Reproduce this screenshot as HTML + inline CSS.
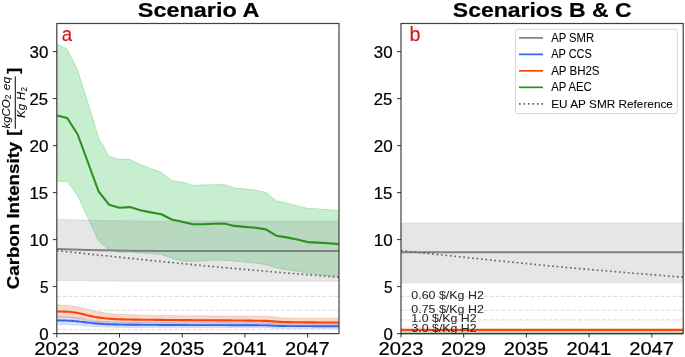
<!DOCTYPE html>
<html><head><meta charset="utf-8"><title>Carbon Intensity: Scenario A / Scenarios B &amp; C</title><style>html,body{margin:0;padding:0;background:#fff;overflow:hidden;}
svg{display:block;will-change:transform;}
text{font-family:"Liberation Sans",sans-serif;fill:#000;stroke:#000;stroke-width:0.22px;paint-order:stroke;}</style></head><body>
<svg width="685" height="357" viewBox="0 0 685 357">
<defs><clipPath id="clipA"><rect x="56.8" y="23.5" width="282.2" height="310.1"/></clipPath><clipPath id="clipB"><rect x="401.0" y="23.5" width="282.2" height="310.1"/></clipPath></defs>
<rect width="685" height="357" fill="#fff"/>
<g clip-path="url(#clipA)">
<path d="M56.80,43.80 L67.25,49.40 L77.70,70.50 L88.16,103.80 L98.61,138.20 L109.06,156.40 L119.51,159.50 L129.96,159.50 L140.41,164.70 L150.87,168.60 L161.32,172.50 L171.77,180.60 L182.22,182.20 L192.67,185.50 L203.13,185.00 L213.58,184.90 L224.03,184.70 L234.48,188.00 L244.93,189.20 L255.39,190.20 L265.84,192.50 L276.29,200.90 L286.74,203.10 L297.19,206.00 L307.64,208.50 L318.10,209.00 L328.55,209.80 L339.00,210.50 L339.00,276.40 L328.55,275.50 L318.10,274.50 L307.64,273.00 L297.19,271.10 L286.74,269.70 L276.29,267.80 L265.84,264.50 L255.39,263.10 L244.93,262.10 L234.48,261.00 L224.03,260.00 L213.58,259.90 L203.13,260.70 L192.67,261.30 L182.22,261.00 L171.77,258.20 L161.32,254.40 L150.87,253.50 L140.41,252.90 L129.96,251.80 L119.51,252.40 L109.06,249.50 L98.61,241.10 L88.16,218.20 L77.70,195.80 L67.25,181.50 L56.80,181.00 Z" fill="rgb(198,238,207)" stroke="rgb(172,226,184)" stroke-width="1.0" stroke-linejoin="round"/>
<path d="M56.80,219.30 L88.16,220.10 L119.51,220.80 L150.87,221.00 L339.00,221.00 L339.00,281.30 L119.51,281.20 L56.80,280.60 Z" fill="#808080" fill-opacity="0.2" stroke="#808080" stroke-opacity="0.15" stroke-width="1"/>
<path d="M56.80,305.00 L58.57,305.01 L60.35,305.04 L62.12,305.09 L63.90,305.15 L65.67,305.23 L67.45,305.31 L69.22,305.47 L71.00,305.71 L72.77,306.02 L74.55,306.37 L76.32,306.73 L78.10,307.07 L79.87,307.43 L81.65,307.81 L83.42,308.21 L85.20,308.62 L86.97,309.03 L88.75,309.44 L90.52,309.87 L92.30,310.32 L94.07,310.77 L95.85,311.20 L97.62,311.60 L99.40,311.95 L101.17,312.29 L102.95,312.61 L104.72,312.91 L106.50,313.18 L108.27,313.41 L110.05,313.60 L111.82,313.77 L113.59,313.93 L115.37,314.06 L117.14,314.18 L118.92,314.27 L120.69,314.35 L122.47,314.42 L124.24,314.49 L126.02,314.56 L127.79,314.62 L129.57,314.68 L131.34,314.74 L133.12,314.80 L134.89,314.85 L136.67,314.91 L138.44,314.96 L140.22,315.00 L141.99,315.05 L143.77,315.09 L145.54,315.14 L147.32,315.18 L149.09,315.22 L150.87,315.25 L152.64,315.29 L154.42,315.33 L156.19,315.36 L157.97,315.39 L159.74,315.42 L161.52,315.45 L163.29,315.48 L165.07,315.51 L166.84,315.53 L168.62,315.56 L170.39,315.58 L172.16,315.61 L173.94,315.63 L175.71,315.65 L177.49,315.67 L179.26,315.69 L181.04,315.71 L182.81,315.72 L184.59,315.74 L186.36,315.75 L188.14,315.77 L189.91,315.78 L191.69,315.79 L193.46,315.80 L195.24,315.81 L197.01,315.83 L198.79,315.83 L200.56,315.84 L202.34,315.85 L204.11,315.86 L205.89,315.87 L207.66,315.88 L209.44,315.89 L211.21,315.89 L212.99,315.90 L214.76,315.91 L216.54,315.92 L218.31,315.93 L220.09,315.93 L221.86,315.94 L223.64,315.95 L225.41,315.96 L227.18,315.97 L228.96,315.98 L230.73,315.99 L232.51,316.00 L234.28,316.01 L236.06,316.03 L237.83,316.04 L239.61,316.05 L241.38,316.07 L243.16,316.08 L244.93,316.10 L246.71,316.12 L248.48,316.14 L250.26,316.16 L252.03,316.18 L253.81,316.20 L255.58,316.23 L257.36,316.25 L259.13,316.28 L260.91,316.31 L262.68,316.34 L264.46,316.37 L266.23,316.41 L268.01,316.49 L269.78,316.61 L271.56,316.77 L273.33,316.94 L275.11,317.10 L276.88,317.25 L278.66,317.41 L280.43,317.58 L282.21,317.74 L283.98,317.88 L285.75,317.98 L287.53,318.01 L289.30,318.03 L291.08,318.05 L292.85,318.07 L294.63,318.09 L296.40,318.11 L298.18,318.13 L299.95,318.15 L301.73,318.16 L303.50,318.17 L305.28,318.19 L307.05,318.20 L308.83,318.21 L310.60,318.22 L312.38,318.23 L314.15,318.24 L315.93,318.25 L317.70,318.26 L319.48,318.27 L321.25,318.27 L323.03,318.28 L324.80,318.28 L326.58,318.29 L328.35,318.29 L330.13,318.29 L331.90,318.30 L333.68,318.30 L335.45,318.30 L337.23,318.30 L339.00,318.30 L339.00,325.60 L337.23,325.60 L335.45,325.60 L333.68,325.60 L331.90,325.60 L330.13,325.60 L328.35,325.60 L326.58,325.60 L324.80,325.59 L323.03,325.59 L321.25,325.59 L319.48,325.59 L317.70,325.59 L315.93,325.58 L314.15,325.58 L312.38,325.58 L310.60,325.57 L308.83,325.57 L307.05,325.57 L305.28,325.56 L303.50,325.56 L301.73,325.55 L299.95,325.55 L298.18,325.54 L296.40,325.54 L294.63,325.53 L292.85,325.53 L291.08,325.52 L289.30,325.51 L287.53,325.50 L285.75,325.49 L283.98,325.46 L282.21,325.41 L280.43,325.35 L278.66,325.28 L276.88,325.22 L275.11,325.16 L273.33,325.08 L271.56,324.99 L269.78,324.91 L268.01,324.84 L266.23,324.80 L264.46,324.79 L262.68,324.78 L260.91,324.76 L259.13,324.75 L257.36,324.74 L255.58,324.73 L253.81,324.72 L252.03,324.71 L250.26,324.70 L248.48,324.70 L246.71,324.69 L244.93,324.68 L243.16,324.67 L241.38,324.67 L239.61,324.66 L237.83,324.66 L236.06,324.65 L234.28,324.65 L232.51,324.64 L230.73,324.64 L228.96,324.63 L227.18,324.63 L225.41,324.62 L223.64,324.62 L221.86,324.62 L220.09,324.61 L218.31,324.61 L216.54,324.61 L214.76,324.60 L212.99,324.60 L211.21,324.60 L209.44,324.59 L207.66,324.59 L205.89,324.59 L204.11,324.59 L202.34,324.58 L200.56,324.58 L198.79,324.58 L197.01,324.57 L195.24,324.57 L193.46,324.57 L191.69,324.56 L189.91,324.56 L188.14,324.55 L186.36,324.55 L184.59,324.54 L182.81,324.54 L181.04,324.53 L179.26,324.53 L177.49,324.52 L175.71,324.52 L173.94,324.51 L172.16,324.50 L170.39,324.49 L168.62,324.49 L166.84,324.48 L165.07,324.47 L163.29,324.47 L161.52,324.46 L159.74,324.46 L157.97,324.45 L156.19,324.44 L154.42,324.44 L152.64,324.43 L150.87,324.42 L149.09,324.42 L147.32,324.41 L145.54,324.40 L143.77,324.39 L141.99,324.38 L140.22,324.37 L138.44,324.36 L136.67,324.35 L134.89,324.34 L133.12,324.33 L131.34,324.32 L129.57,324.30 L127.79,324.29 L126.02,324.27 L124.24,324.25 L122.47,324.23 L120.69,324.21 L118.92,324.19 L117.14,324.15 L115.37,324.10 L113.59,324.03 L111.82,323.94 L110.05,323.85 L108.27,323.75 L106.50,323.63 L104.72,323.47 L102.95,323.30 L101.17,323.10 L99.40,322.90 L97.62,322.67 L95.85,322.41 L94.07,322.11 L92.30,321.79 L90.52,321.45 L88.75,321.11 L86.97,320.77 L85.20,320.39 L83.42,319.99 L81.65,319.59 L79.87,319.21 L78.10,318.87 L76.32,318.56 L74.55,318.24 L72.77,317.94 L71.00,317.67 L69.22,317.45 L67.45,317.31 L65.67,317.23 L63.90,317.15 L62.12,317.09 L60.35,317.04 L58.57,317.01 L56.80,317.00 Z" fill="rgb(225,95,60)" fill-opacity="0.25" stroke="rgb(225,95,60)" stroke-opacity="0.2" stroke-width="1"/>
<path d="M56.80,316.60 L58.57,316.61 L60.35,316.63 L62.12,316.66 L63.90,316.70 L65.67,316.75 L67.45,316.81 L69.22,316.90 L71.00,317.04 L72.77,317.22 L74.55,317.42 L76.32,317.63 L78.10,317.85 L79.87,318.10 L81.65,318.40 L83.42,318.71 L85.20,319.03 L86.97,319.32 L88.75,319.58 L90.52,319.83 L92.30,320.07 L94.07,320.30 L95.85,320.51 L97.62,320.70 L99.40,320.87 L101.17,321.04 L102.95,321.20 L104.72,321.34 L106.50,321.46 L108.27,321.56 L110.05,321.64 L111.82,321.71 L113.59,321.77 L115.37,321.83 L117.14,321.87 L118.92,321.89 L120.69,321.91 L122.47,321.92 L124.24,321.93 L126.02,321.95 L127.79,321.96 L129.57,321.97 L131.34,321.98 L133.12,321.98 L134.89,321.99 L136.67,322.00 L138.44,322.00 L140.22,322.01 L141.99,322.02 L143.77,322.02 L145.54,322.03 L147.32,322.03 L149.09,322.04 L150.87,322.04 L152.64,322.04 L154.42,322.05 L156.19,322.05 L157.97,322.06 L159.74,322.06 L161.52,322.07 L163.29,322.07 L165.07,322.08 L166.84,322.08 L168.62,322.09 L170.39,322.09 L172.16,322.10 L173.94,322.11 L175.71,322.11 L177.49,322.12 L179.26,322.13 L181.04,322.13 L182.81,322.14 L184.59,322.14 L186.36,322.15 L188.14,322.15 L189.91,322.16 L191.69,322.16 L193.46,322.17 L195.24,322.17 L197.01,322.18 L198.79,322.18 L200.56,322.18 L202.34,322.19 L204.11,322.19 L205.89,322.20 L207.66,322.20 L209.44,322.20 L211.21,322.21 L212.99,322.21 L214.76,322.22 L216.54,322.22 L218.31,322.23 L220.09,322.23 L221.86,322.24 L223.64,322.24 L225.41,322.25 L227.18,322.26 L228.96,322.26 L230.73,322.27 L232.51,322.28 L234.28,322.28 L236.06,322.29 L237.83,322.30 L239.61,322.31 L241.38,322.32 L243.16,322.33 L244.93,322.34 L246.71,322.35 L248.48,322.36 L250.26,322.37 L252.03,322.38 L253.81,322.40 L255.58,322.41 L257.36,322.42 L259.13,322.44 L260.91,322.45 L262.68,322.47 L264.46,322.49 L266.23,322.51 L268.01,322.55 L269.78,322.64 L271.56,322.74 L273.33,322.84 L275.11,322.94 L276.88,323.03 L278.66,323.11 L280.43,323.19 L282.21,323.27 L283.98,323.34 L285.75,323.39 L287.53,323.41 L289.30,323.42 L291.08,323.43 L292.85,323.45 L294.63,323.46 L296.40,323.47 L298.18,323.48 L299.95,323.49 L301.73,323.50 L303.50,323.51 L305.28,323.52 L307.05,323.53 L308.83,323.54 L310.60,323.55 L312.38,323.55 L314.15,323.56 L315.93,323.57 L317.70,323.57 L319.48,323.58 L321.25,323.58 L323.03,323.58 L324.80,323.59 L326.58,323.59 L328.35,323.59 L330.13,323.60 L331.90,323.60 L333.68,323.60 L335.45,323.60 L337.23,323.60 L339.00,323.60 L339.00,328.40 L337.23,328.40 L335.45,328.40 L333.68,328.40 L331.90,328.40 L330.13,328.40 L328.35,328.40 L326.58,328.40 L324.80,328.40 L323.03,328.40 L321.25,328.40 L319.48,328.40 L317.70,328.40 L315.93,328.40 L314.15,328.40 L312.38,328.40 L310.60,328.40 L308.83,328.40 L307.05,328.40 L305.28,328.40 L303.50,328.40 L301.73,328.40 L299.95,328.40 L298.18,328.40 L296.40,328.40 L294.63,328.40 L292.85,328.40 L291.08,328.40 L289.30,328.40 L287.53,328.40 L285.75,328.40 L283.98,328.39 L282.21,328.38 L280.43,328.36 L278.66,328.33 L276.88,328.31 L275.11,328.27 L273.33,328.20 L271.56,328.12 L269.78,328.03 L268.01,327.95 L266.23,327.90 L264.46,327.89 L262.68,327.88 L260.91,327.86 L259.13,327.85 L257.36,327.84 L255.58,327.83 L253.81,327.82 L252.03,327.81 L250.26,327.80 L248.48,327.79 L246.71,327.79 L244.93,327.78 L243.16,327.77 L241.38,327.76 L239.61,327.76 L237.83,327.75 L236.06,327.75 L234.28,327.74 L232.51,327.73 L230.73,327.73 L228.96,327.73 L227.18,327.72 L225.41,327.72 L223.64,327.71 L221.86,327.71 L220.09,327.70 L218.31,327.70 L216.54,327.70 L214.76,327.69 L212.99,327.69 L211.21,327.69 L209.44,327.68 L207.66,327.68 L205.89,327.68 L204.11,327.68 L202.34,327.67 L200.56,327.67 L198.79,327.67 L197.01,327.66 L195.24,327.66 L193.46,327.66 L191.69,327.65 L189.91,327.65 L188.14,327.65 L186.36,327.64 L184.59,327.64 L182.81,327.63 L181.04,327.63 L179.26,327.62 L177.49,327.62 L175.71,327.61 L173.94,327.61 L172.16,327.60 L170.39,327.60 L168.62,327.59 L166.84,327.58 L165.07,327.58 L163.29,327.57 L161.52,327.57 L159.74,327.56 L157.97,327.56 L156.19,327.55 L154.42,327.55 L152.64,327.55 L150.87,327.54 L149.09,327.54 L147.32,327.53 L145.54,327.53 L143.77,327.52 L141.99,327.51 L140.22,327.51 L138.44,327.50 L136.67,327.50 L134.89,327.49 L133.12,327.48 L131.34,327.47 L129.57,327.46 L127.79,327.45 L126.02,327.44 L124.24,327.43 L122.47,327.42 L120.69,327.41 L118.92,327.39 L117.14,327.37 L115.37,327.34 L113.59,327.31 L111.82,327.26 L110.05,327.22 L108.27,327.18 L106.50,327.14 L104.72,327.10 L102.95,327.05 L101.17,326.99 L99.40,326.93 L97.62,326.86 L95.85,326.76 L94.07,326.64 L92.30,326.51 L90.52,326.38 L88.75,326.24 L86.97,326.11 L85.20,325.98 L83.42,325.84 L81.65,325.70 L79.87,325.56 L78.10,325.43 L76.32,325.30 L74.55,325.16 L72.77,325.02 L71.00,324.89 L69.22,324.78 L67.45,324.71 L65.67,324.65 L63.90,324.61 L62.12,324.56 L60.35,324.53 L58.57,324.51 L56.80,324.50 Z" fill="#4169e1" fill-opacity="0.2" stroke="#4169e1" stroke-opacity="0.15" stroke-width="1"/>
<line x1="56.8" y1="296.4" x2="339.0" y2="296.4" stroke="#e0e0e0" stroke-width="1.1" stroke-dasharray="3.9 2.0"/>
<line x1="56.8" y1="310.3" x2="339.0" y2="310.3" stroke="#e0e0e0" stroke-width="1.1" stroke-dasharray="3.9 2.0"/>
<line x1="56.8" y1="319.9" x2="339.0" y2="319.9" stroke="#e0e0e0" stroke-width="1.1" stroke-dasharray="3.9 2.0"/>
<line x1="56.8" y1="329.5" x2="339.0" y2="329.5" stroke="#e0e0e0" stroke-width="1.1" stroke-dasharray="3.9 2.0"/>
<path d="M56.80,249.10 L88.16,249.90 L129.96,250.70 L161.32,250.90 L339.00,250.90" fill="none" stroke="#808080" stroke-width="2"/>
<path d="M56.80,250.60 L133.30,258.70 L213.30,266.70 L288.80,273.20 L339.00,277.20" fill="none" stroke="#666666" stroke-width="1.69" stroke-dasharray="1.69 2.78"/>
<path d="M56.80,115.60 L67.25,118.00 L77.70,134.50 L88.16,163.00 L98.61,191.50 L109.06,204.70 L119.51,207.80 L129.96,207.10 L140.41,210.20 L150.87,212.40 L161.32,214.30 L171.77,219.50 L182.22,221.80 L192.67,224.30 L203.13,224.30 L213.58,223.70 L224.03,223.50 L234.48,225.90 L244.93,226.90 L255.39,227.80 L265.84,229.40 L276.29,235.70 L286.74,237.40 L297.19,239.50 L307.64,242.10 L318.10,242.60 L328.55,243.20 L339.00,244.10" fill="none" stroke="#2d8f20" stroke-width="2.1" stroke-linejoin="round"/>
<path d="M56.80,311.50 L58.57,311.51 L60.35,311.53 L62.12,311.56 L63.90,311.60 L65.67,311.65 L67.45,311.71 L69.22,311.82 L71.00,311.99 L72.77,312.22 L74.55,312.49 L76.32,312.77 L78.10,313.07 L79.87,313.43 L81.65,313.85 L83.42,314.32 L85.20,314.79 L86.97,315.23 L88.75,315.63 L90.52,316.00 L92.30,316.37 L94.07,316.73 L95.85,317.05 L97.62,317.35 L99.40,317.61 L101.17,317.85 L102.95,318.08 L104.72,318.29 L106.50,318.48 L108.27,318.64 L110.05,318.77 L111.82,318.90 L113.59,319.02 L115.37,319.13 L117.14,319.22 L118.92,319.28 L120.69,319.33 L122.47,319.37 L124.24,319.41 L126.02,319.45 L127.79,319.48 L129.57,319.52 L131.34,319.55 L133.12,319.58 L134.89,319.60 L136.67,319.63 L138.44,319.65 L140.22,319.68 L141.99,319.70 L143.77,319.72 L145.54,319.74 L147.32,319.76 L149.09,319.78 L150.87,319.79 L152.64,319.81 L154.42,319.83 L156.19,319.85 L157.97,319.86 L159.74,319.88 L161.52,319.90 L163.29,319.91 L165.07,319.93 L166.84,319.95 L168.62,319.97 L170.39,319.98 L172.16,320.00 L173.94,320.02 L175.71,320.04 L177.49,320.06 L179.26,320.08 L181.04,320.09 L182.81,320.11 L184.59,320.12 L186.36,320.14 L188.14,320.15 L189.91,320.16 L191.69,320.17 L193.46,320.19 L195.24,320.20 L197.01,320.21 L198.79,320.22 L200.56,320.23 L202.34,320.24 L204.11,320.25 L205.89,320.26 L207.66,320.27 L209.44,320.28 L211.21,320.29 L212.99,320.30 L214.76,320.31 L216.54,320.32 L218.31,320.33 L220.09,320.35 L221.86,320.36 L223.64,320.37 L225.41,320.38 L227.18,320.39 L228.96,320.41 L230.73,320.42 L232.51,320.44 L234.28,320.45 L236.06,320.47 L237.83,320.49 L239.61,320.50 L241.38,320.52 L243.16,320.54 L244.93,320.56 L246.71,320.58 L248.48,320.61 L250.26,320.63 L252.03,320.66 L253.81,320.68 L255.58,320.71 L257.36,320.74 L259.13,320.77 L260.91,320.80 L262.68,320.84 L264.46,320.87 L266.23,320.91 L268.01,320.99 L269.78,321.10 L271.56,321.24 L273.33,321.39 L275.11,321.53 L276.88,321.63 L278.66,321.74 L280.43,321.84 L282.21,321.94 L283.98,322.02 L285.75,322.08 L287.53,322.11 L289.30,322.14 L291.08,322.17 L292.85,322.19 L294.63,322.21 L296.40,322.24 L298.18,322.26 L299.95,322.28 L301.73,322.30 L303.50,322.32 L305.28,322.34 L307.05,322.35 L308.83,322.37 L310.60,322.38 L312.38,322.40 L314.15,322.41 L315.93,322.42 L317.70,322.44 L319.48,322.45 L321.25,322.46 L323.03,322.46 L324.80,322.47 L326.58,322.48 L328.35,322.48 L330.13,322.49 L331.90,322.49 L333.68,322.50 L335.45,322.50 L337.23,322.50 L339.00,322.50" fill="none" stroke="#ff4500" stroke-width="2.1"/>
<path d="M56.80,320.40 L58.57,320.41 L60.35,320.43 L62.12,320.46 L63.90,320.50 L65.67,320.55 L67.45,320.61 L69.22,320.69 L71.00,320.80 L72.77,320.95 L74.55,321.10 L76.32,321.27 L78.10,321.44 L79.87,321.62 L81.65,321.82 L83.42,322.04 L85.20,322.25 L86.97,322.47 L88.75,322.67 L90.52,322.87 L92.30,323.07 L94.07,323.27 L95.85,323.46 L97.62,323.62 L99.40,323.76 L101.17,323.88 L102.95,323.99 L104.72,324.10 L106.50,324.19 L108.27,324.27 L110.05,324.34 L111.82,324.40 L113.59,324.46 L115.37,324.51 L117.14,324.56 L118.92,324.59 L120.69,324.62 L122.47,324.64 L124.24,324.66 L126.02,324.68 L127.79,324.70 L129.57,324.72 L131.34,324.74 L133.12,324.76 L134.89,324.77 L136.67,324.79 L138.44,324.80 L140.22,324.82 L141.99,324.83 L143.77,324.84 L145.54,324.85 L147.32,324.86 L149.09,324.88 L150.87,324.89 L152.64,324.90 L154.42,324.91 L156.19,324.92 L157.97,324.93 L159.74,324.94 L161.52,324.95 L163.29,324.95 L165.07,324.96 L166.84,324.97 L168.62,324.98 L170.39,324.99 L172.16,325.00 L173.94,325.01 L175.71,325.02 L177.49,325.03 L179.26,325.04 L181.04,325.04 L182.81,325.05 L184.59,325.06 L186.36,325.07 L188.14,325.07 L189.91,325.08 L191.69,325.08 L193.46,325.09 L195.24,325.09 L197.01,325.10 L198.79,325.10 L200.56,325.11 L202.34,325.11 L204.11,325.11 L205.89,325.12 L207.66,325.12 L209.44,325.13 L211.21,325.13 L212.99,325.13 L214.76,325.14 L216.54,325.14 L218.31,325.15 L220.09,325.15 L221.86,325.16 L223.64,325.16 L225.41,325.17 L227.18,325.17 L228.96,325.18 L230.73,325.18 L232.51,325.19 L234.28,325.19 L236.06,325.20 L237.83,325.21 L239.61,325.22 L241.38,325.22 L243.16,325.23 L244.93,325.24 L246.71,325.25 L248.48,325.26 L250.26,325.27 L252.03,325.29 L253.81,325.30 L255.58,325.31 L257.36,325.32 L259.13,325.34 L260.91,325.35 L262.68,325.37 L264.46,325.39 L266.23,325.41 L268.01,325.46 L269.78,325.55 L271.56,325.66 L273.33,325.77 L275.11,325.86 L276.88,325.92 L278.66,325.96 L280.43,326.01 L282.21,326.04 L283.98,326.07 L285.75,326.09 L287.53,326.10 L289.30,326.11 L291.08,326.12 L292.85,326.12 L294.63,326.13 L296.40,326.14 L298.18,326.14 L299.95,326.15 L301.73,326.15 L303.50,326.16 L305.28,326.16 L307.05,326.17 L308.83,326.17 L310.60,326.17 L312.38,326.18 L314.15,326.18 L315.93,326.18 L317.70,326.19 L319.48,326.19 L321.25,326.19 L323.03,326.19 L324.80,326.19 L326.58,326.20 L328.35,326.20 L330.13,326.20 L331.90,326.20 L333.68,326.20 L335.45,326.20 L337.23,326.20 L339.00,326.20" fill="none" stroke="#3563ec" stroke-width="1.9"/>
</g>
<rect x="56.8" y="23.5" width="282.2" height="310.1" fill="none" stroke="#404040" stroke-width="1.2"/>
<line x1="52.86" y1="333.60" x2="56.8" y2="333.60" stroke="#1a1a1a" stroke-width="0.9"/>
<line x1="52.86" y1="286.60" x2="56.8" y2="286.60" stroke="#1a1a1a" stroke-width="0.9"/>
<line x1="52.86" y1="239.60" x2="56.8" y2="239.60" stroke="#1a1a1a" stroke-width="0.9"/>
<line x1="52.86" y1="192.60" x2="56.8" y2="192.60" stroke="#1a1a1a" stroke-width="0.9"/>
<line x1="52.86" y1="145.60" x2="56.8" y2="145.60" stroke="#1a1a1a" stroke-width="0.9"/>
<line x1="52.86" y1="98.60" x2="56.8" y2="98.60" stroke="#1a1a1a" stroke-width="0.9"/>
<line x1="52.86" y1="51.60" x2="56.8" y2="51.60" stroke="#1a1a1a" stroke-width="0.9"/>
<line x1="56.80" y1="333.6" x2="56.80" y2="337.54" stroke="#1a1a1a" stroke-width="0.9"/>
<line x1="119.51" y1="333.6" x2="119.51" y2="337.54" stroke="#1a1a1a" stroke-width="0.9"/>
<line x1="182.22" y1="333.6" x2="182.22" y2="337.54" stroke="#1a1a1a" stroke-width="0.9"/>
<line x1="244.93" y1="333.6" x2="244.93" y2="337.54" stroke="#1a1a1a" stroke-width="0.9"/>
<line x1="307.64" y1="333.6" x2="307.64" y2="337.54" stroke="#1a1a1a" stroke-width="0.9"/>
<g clip-path="url(#clipB)">
<path d="M401.0,223 L683.2,223 L683.2,282.8 L401.0,282.8 Z" fill="#808080" fill-opacity="0.2" stroke="#808080" stroke-opacity="0.15" stroke-width="1"/>
<line x1="401.0" y1="296.4" x2="683.2" y2="296.4" stroke="#e0e0e0" stroke-width="1.1" stroke-dasharray="3.9 2.0"/>
<line x1="401.0" y1="310.3" x2="683.2" y2="310.3" stroke="#e0e0e0" stroke-width="1.1" stroke-dasharray="3.9 2.0"/>
<line x1="401.0" y1="319.9" x2="683.2" y2="319.9" stroke="#e0e0e0" stroke-width="1.1" stroke-dasharray="3.9 2.0"/>
<line x1="401.0" y1="329.5" x2="683.2" y2="329.5" stroke="#e0e0e0" stroke-width="1.1" stroke-dasharray="3.9 2.0"/>
<line x1="401.0" y1="252.3" x2="683.2" y2="252.3" stroke="#808080" stroke-width="2"/>
<path d="M401.00,250.60 L477.50,258.70 L557.50,266.70 L633.00,273.20 L683.20,277.20" fill="none" stroke="#666666" stroke-width="1.69" stroke-dasharray="1.69 2.78"/>
<line x1="401.0" y1="331.6" x2="683.2" y2="331.6" stroke="#d6d2f4" stroke-width="1.1"/>
<line x1="401.0" y1="329.9" x2="683.2" y2="329.9" stroke="#ff4500" stroke-width="2.3"/>
</g>
<rect x="401.0" y="23.5" width="282.2" height="310.1" fill="none" stroke="#404040" stroke-width="1.2"/>
<line x1="401.0" y1="333.5" x2="683.2" y2="333.5" stroke="#1f4a1f" stroke-width="1.5"/>
<line x1="397.06" y1="333.60" x2="401.0" y2="333.60" stroke="#1a1a1a" stroke-width="0.9"/>
<line x1="397.06" y1="286.60" x2="401.0" y2="286.60" stroke="#1a1a1a" stroke-width="0.9"/>
<line x1="397.06" y1="239.60" x2="401.0" y2="239.60" stroke="#1a1a1a" stroke-width="0.9"/>
<line x1="397.06" y1="192.60" x2="401.0" y2="192.60" stroke="#1a1a1a" stroke-width="0.9"/>
<line x1="397.06" y1="145.60" x2="401.0" y2="145.60" stroke="#1a1a1a" stroke-width="0.9"/>
<line x1="397.06" y1="98.60" x2="401.0" y2="98.60" stroke="#1a1a1a" stroke-width="0.9"/>
<line x1="397.06" y1="51.60" x2="401.0" y2="51.60" stroke="#1a1a1a" stroke-width="0.9"/>
<line x1="401.00" y1="333.6" x2="401.00" y2="337.54" stroke="#1a1a1a" stroke-width="0.9"/>
<line x1="463.71" y1="333.6" x2="463.71" y2="337.54" stroke="#1a1a1a" stroke-width="0.9"/>
<line x1="526.42" y1="333.6" x2="526.42" y2="337.54" stroke="#1a1a1a" stroke-width="0.9"/>
<line x1="589.13" y1="333.6" x2="589.13" y2="337.54" stroke="#1a1a1a" stroke-width="0.9"/>
<line x1="651.84" y1="333.6" x2="651.84" y2="337.54" stroke="#1a1a1a" stroke-width="0.9"/>
<rect x="515.4" y="29.3" width="161.9" height="84.3" rx="2.5" fill="#fff" fill-opacity="0.8" stroke="#d6d6d6" stroke-width="1"/>
<line x1="519" y1="37.90" x2="543" y2="37.90" stroke="#808080" stroke-width="1.7"/>
<line x1="519" y1="54.38" x2="543" y2="54.38" stroke="#3563ec" stroke-width="1.7"/>
<line x1="519" y1="70.86" x2="543" y2="70.86" stroke="#ff4500" stroke-width="1.7"/>
<line x1="519" y1="87.34" x2="543" y2="87.34" stroke="#2d8f20" stroke-width="1.7"/>
<line x1="519" y1="103.82" x2="543" y2="103.82" stroke="#666666" stroke-width="1.69" stroke-dasharray="1.69 2.78"/>
<text x="137.80" y="16.54" textLength="121.59" lengthAdjust="spacingAndGlyphs" style="font-size:20.612px;font-weight:bold">Scenario A</text>
<text x="34.24" y="355.06" textLength="44.91" lengthAdjust="spacingAndGlyphs" style="font-size:19.014px">2023</text>
<text x="96.99" y="355.06" textLength="45.02" lengthAdjust="spacingAndGlyphs" style="font-size:19.014px">2029</text>
<text x="159.75" y="355.06" textLength="44.54" lengthAdjust="spacingAndGlyphs" style="font-size:19.014px">2035</text>
<text x="222.24" y="355.06" textLength="44.75" lengthAdjust="spacingAndGlyphs" style="font-size:19.014px">2041</text>
<text x="284.99" y="355.06" textLength="44.75" lengthAdjust="spacingAndGlyphs" style="font-size:19.014px">2047</text>
<text x="39.33" y="339.58" textLength="9.37" lengthAdjust="spacingAndGlyphs" style="font-size:16.549px">0</text>
<text x="39.89" y="292.59" textLength="8.49" lengthAdjust="spacingAndGlyphs" style="font-size:16.429px">5</text>
<text x="29.48" y="245.58" textLength="18.91" lengthAdjust="spacingAndGlyphs" style="font-size:16.549px">10</text>
<text x="29.49" y="198.58" textLength="18.73" lengthAdjust="spacingAndGlyphs" style="font-size:16.786px">15</text>
<text x="29.40" y="151.58" textLength="18.99" lengthAdjust="spacingAndGlyphs" style="font-size:16.549px">20</text>
<text x="29.42" y="104.58" textLength="18.54" lengthAdjust="spacingAndGlyphs" style="font-size:16.549px">25</text>
<text x="29.57" y="57.58" textLength="18.81" lengthAdjust="spacingAndGlyphs" style="font-size:16.549px">30</text>
<text x="452.81" y="16.54" textLength="178.89" lengthAdjust="spacingAndGlyphs" style="font-size:20.612px;font-weight:bold">Scenarios B &amp; C</text>
<text x="378.49" y="355.06" textLength="44.91" lengthAdjust="spacingAndGlyphs" style="font-size:19.014px">2023</text>
<text x="440.99" y="355.06" textLength="45.02" lengthAdjust="spacingAndGlyphs" style="font-size:19.014px">2029</text>
<text x="503.75" y="355.06" textLength="44.54" lengthAdjust="spacingAndGlyphs" style="font-size:19.014px">2035</text>
<text x="566.49" y="355.06" textLength="44.75" lengthAdjust="spacingAndGlyphs" style="font-size:19.014px">2041</text>
<text x="629.24" y="355.06" textLength="44.75" lengthAdjust="spacingAndGlyphs" style="font-size:19.014px">2047</text>
<text x="383.58" y="339.58" textLength="9.37" lengthAdjust="spacingAndGlyphs" style="font-size:16.549px">0</text>
<text x="383.89" y="292.59" textLength="8.49" lengthAdjust="spacingAndGlyphs" style="font-size:16.429px">5</text>
<text x="373.73" y="245.58" textLength="18.91" lengthAdjust="spacingAndGlyphs" style="font-size:16.549px">10</text>
<text x="373.74" y="198.58" textLength="18.73" lengthAdjust="spacingAndGlyphs" style="font-size:16.786px">15</text>
<text x="373.65" y="151.58" textLength="18.99" lengthAdjust="spacingAndGlyphs" style="font-size:16.549px">20</text>
<text x="373.67" y="104.58" textLength="18.54" lengthAdjust="spacingAndGlyphs" style="font-size:16.549px">25</text>
<text x="373.82" y="57.58" textLength="18.81" lengthAdjust="spacingAndGlyphs" style="font-size:16.549px">30</text>
<text x="551.13" y="41.80" textLength="42.93" lengthAdjust="spacingAndGlyphs" style="font-size:11.933px;stroke-width:0.06px">AP SMR</text>
<text x="551.13" y="58.28" textLength="40.77" lengthAdjust="spacingAndGlyphs" style="font-size:11.933px;stroke-width:0.06px">AP CCS</text>
<text x="551.13" y="74.76" textLength="48.43" lengthAdjust="spacingAndGlyphs" style="font-size:11.933px;stroke-width:0.06px">AP BH2S</text>
<text x="551.13" y="91.24" textLength="40.53" lengthAdjust="spacingAndGlyphs" style="font-size:11.933px;stroke-width:0.06px">AP AEC</text>
<text x="551.25" y="107.72" textLength="121.64" lengthAdjust="spacingAndGlyphs" style="font-size:11.793px;stroke-width:0.06px">EU AP SMR Reference</text>
<text x="411.28" y="298.90" textLength="72.56" lengthAdjust="spacingAndGlyphs" style="font-size:11.554px;stroke-width:0.06px;fill:#262626;stroke:#262626">0.60 $/Kg H2</text>
<text x="411.28" y="313.00" textLength="72.56" lengthAdjust="spacingAndGlyphs" style="font-size:11.554px;stroke-width:0.06px;fill:#262626;stroke:#262626">0.75 $/Kg H2</text>
<text x="411.36" y="322.40" textLength="65.32" lengthAdjust="spacingAndGlyphs" style="font-size:11.554px;stroke-width:0.06px;fill:#262626;stroke:#262626">1.0 $/Kg H2</text>
<text x="411.40" y="331.80" textLength="65.28" lengthAdjust="spacingAndGlyphs" style="font-size:11.554px;stroke-width:0.06px;fill:#262626;stroke:#262626">3.0 $/Kg H2</text>
<g transform="translate(18.8,289.3) rotate(-90)">
<text x="0.04" y="-0.00" textLength="147.55" lengthAdjust="spacingAndGlyphs" style="font-size:16.510px;font-weight:bold">Carbon Intensity</text>
<text x="153.63" y="-0.00" textLength="6.04" lengthAdjust="spacingAndGlyphs" style="font-size:16.510px;font-weight:bold">[</text>
<text x="215.68" y="-0.00" textLength="5.99" lengthAdjust="spacingAndGlyphs" style="font-size:16.510px;font-weight:bold">]</text>
<text x="160.70" y="-9.31" textLength="29.41" lengthAdjust="spacingAndGlyphs" style="font-size:11.557px;stroke-width:0.06px;font-style:italic">kgCO</text>
<text x="190.42" y="-7.47" textLength="4.36" lengthAdjust="spacingAndGlyphs" style="font-size:8.186px;stroke-width:0.06px">2</text>
<text x="199.13" y="-9.31" textLength="13.38" lengthAdjust="spacingAndGlyphs" style="font-size:11.433px;stroke-width:0.06px;font-style:italic">eq</text>
<text x="171.45" y="6.11" textLength="13.91" lengthAdjust="spacingAndGlyphs" style="font-size:11.664px;stroke-width:0.06px;font-style:italic">Kg</text>
<text x="189.27" y="6.11" textLength="7.99" lengthAdjust="spacingAndGlyphs" style="font-size:11.664px;stroke-width:0.06px;font-style:italic">H</text>
<text x="197.76" y="7.95" textLength="4.36" lengthAdjust="spacingAndGlyphs" style="font-size:8.186px;stroke-width:0.06px">2</text>
<rect x="160.49" y="-4.03" width="52.34" height="0.99" fill="#000"/>
</g>
<text x="61.7" y="40.65" textLength="10.4" lengthAdjust="spacingAndGlyphs" style="font-size:19.6px;fill:#d41515;stroke:#d41515;stroke-width:0.15px">a</text>
<text x="409.45" y="40.65" style="font-size:19.6px;fill:#d41515;stroke:#d41515;stroke-width:0.15px">b</text>
</svg>
</body></html>
